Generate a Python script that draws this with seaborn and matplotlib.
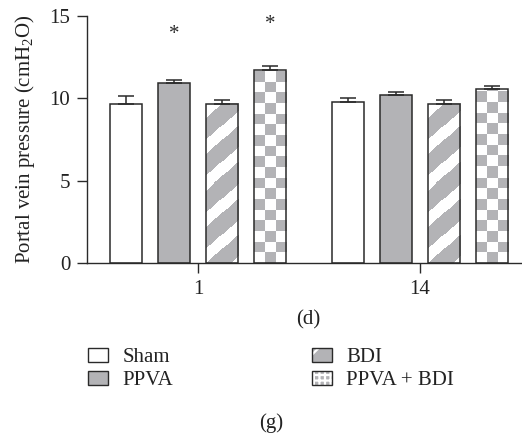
import numpy as np
import pandas as pd
import seaborn as sns
import matplotlib.pyplot as plt
from matplotlib.patches import Patch

days = ["1", "14"]
groups = ["Sham", "PPVA", "BDI", "PPVA + BDI"]
# mean values per group, ordered by day
sham = [9.65, 9.79]
ppva = [10.93, 10.18]
bdi = [9.67, 9.67]
ppva_bdi = [11.72, 10.58]
# upper error (SD) per group, ordered by day
sham_err = [0.50, 0.22]
ppva_err = [0.18, 0.18]
bdi_err = [0.24, 0.24]
ppva_bdi_err = [0.26, 0.16]
# significance stars: (day, group, y)
stars = [("1", "PPVA", 13.85), ("1", "PPVA + BDI", 14.5)]

GRAY = "#b3b3b6"
EDGE = "#2a2a2a"

sns.set_style("ticks")
plt.rcParams["font.family"] = ["Liberation Serif", "DejaVu Serif"]
plt.rcParams["mathtext.fontset"] = "custom"
plt.rcParams["mathtext.rm"] = "Liberation Serif"
plt.rcParams["mathtext.default"] = "rm"
plt.rcParams["hatch.linewidth"] = 1.6
FS = 15

df = pd.DataFrame({
    "day": days * 4,
    "group": [g for g in groups for _ in days],
    "value": sham + ppva + bdi + ppva_bdi,
})
errs = {"Sham": sham_err, "PPVA": ppva_err, "BDI": bdi_err, "PPVA + BDI": ppva_bdi_err}

fig = plt.figure(figsize=(5.22, 4.36), dpi=100)
ax = fig.add_axes([87 / 522, 1 - 263 / 436, 434 / 522, 247 / 436])

palette = {"Sham": "white", "PPVA": GRAY, "BDI": "white", "PPVA + BDI": "white"}
sns.barplot(data=df, x="day", y="value", hue="group", order=days, hue_order=groups,
            palette=palette, width=0.865, gap=0.33, errorbar=None, legend=False,
            edgecolor=EDGE, linewidth=1.1, saturation=1, ax=ax)

ax.set_xlim(-0.5, 1.455)
ax.set_ylim(0, 15)


def texture(ax, patch, kind):
    # fill a bar with stripes or a checkerboard, sized in screen pixels
    bb = patch.get_bbox()
    (dx0, dy0), (dx1, dy1) = ax.transData.transform([[bb.x0, bb.y0], [bb.x1, bb.y1]])
    w, h = max(int(round(dx1 - dx0)), 1), max(int(round(dy1 - dy0)), 1)
    X, Y = np.meshgrid(np.arange(w) + 0.5, np.arange(h) + 0.5)
    gray = np.array(plt.matplotlib.colors.to_rgb(GRAY))
    if kind == "stripe":
        period = 36.0
        white = ((Y - 0.9 * X) % period) < 0.4 * period
    else:
        cell = w / 3.0
        white = ((np.floor(X / cell) + np.floor(Y / cell)) % 2) == 0
    img = np.where(white[..., None], np.ones(3), gray)
    z = patch.get_zorder()
    ax.imshow(img, extent=(bb.x0, bb.x1, bb.y0, bb.y1), origin="lower",
              interpolation="nearest", aspect="auto", zorder=z + 0.1, clip_path=patch)
    patch.set_facecolor("none")
    patch.set_zorder(z + 0.2)


for gi, g in enumerate(groups):
    bars = ax.containers[gi]
    xs = [p.get_x() + p.get_width() / 2 for p in bars]
    hs = [p.get_height() for p in bars]
    ax.errorbar(xs, hs, yerr=[np.zeros(len(hs)), errs[g]], fmt="none", ecolor=EDGE,
                elinewidth=1.1, capsize=5.5, capthick=1.1, zorder=3)
    if g == "BDI":
        for p in bars:
            texture(ax, p, "stripe")
    if g == "PPVA + BDI":
        for p in bars:
            texture(ax, p, "checker")
    for d, sg, sy in stars:
        if sg == g:
            p = bars[days.index(d)]
            ax.text(p.get_x() + p.get_width() / 2, sy, "*", ha="center", va="center",
                    fontsize=FS, color=EDGE)

ax.set_xlim(-0.5, 1.455)
ax.set_ylim(0, 15)
ax.set_yticks([0, 5, 10, 15])
sns.despine(ax=ax)
for s in ["left", "bottom"]:
    ax.spines[s].set_color(EDGE)
    ax.spines[s].set_linewidth(1.0)
ax.tick_params(axis="both", colors=EDGE, labelcolor="#222222", labelsize=FS,
               width=1.0, length=7, pad=5)
ax.set_xlabel("")
ax.set_ylabel("Portal vein pressure (cmH$_2$O)", fontsize=FS, color="#222222", labelpad=9)

fig.text(308 / 522, 1 - 320 / 436, "(d)", ha="center", va="center", fontsize=FS, color="#222222")
fig.text(271 / 522, 1 - 423 / 436, "(g)", ha="center", va="center", fontsize=FS, color="#222222")


def frame():
    return Patch(facecolor="none", edgecolor=EDGE, linewidth=1.0)


handles = [
    Patch(facecolor="white", edgecolor=EDGE, linewidth=1.0),
    Patch(facecolor=GRAY, edgecolor=EDGE, linewidth=1.0),
    (Patch(facecolor=GRAY, edgecolor="white", linewidth=0, hatch="/"), frame()),
    (Patch(facecolor=GRAY, edgecolor="white", linewidth=0, hatch="+++"), frame()),
]
leg_kw = dict(frameon=False, fontsize=FS, handlelength=0.95, handleheight=0.62,
              handletextpad=0.7, labelspacing=0.2, borderpad=0, borderaxespad=0,
              loc="upper left")
leg1 = fig.legend(handles[:2], groups[:2], bbox_to_anchor=(88 / 522, 1 - 348 / 436), **leg_kw)
leg2 = fig.legend(handles[2:], groups[2:], bbox_to_anchor=(312 / 522, 1 - 348 / 436), **leg_kw)
for leg in (leg1, leg2):
    for t in leg.get_texts():
        t.set_color("#222222")

fig.savefig("out.png", dpi=100)
